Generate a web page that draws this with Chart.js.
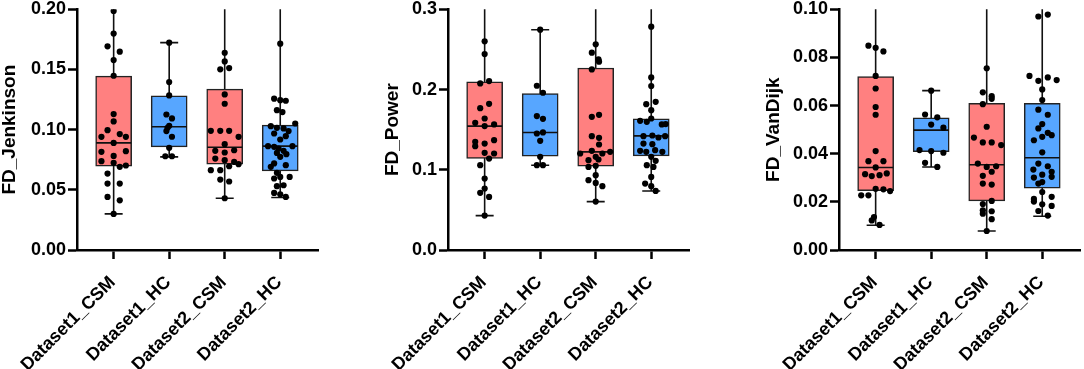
<!DOCTYPE html>
<html>
<head>
<meta charset="utf-8">
<script src="https://cdn.jsdelivr.net/npm/chart.js@4"></script>
<style>
  body { margin: 0; background: #fff; }
  #wrap { position: relative; width: 1084px; height: 369px; overflow: hidden; }
  canvas { position: absolute; top: 0; }
</style>
</head>
<body>
<div id="wrap">
  <canvas id="jenkinson" width="361" height="369" style="left:0px"></canvas>
  <canvas id="power" width="361" height="369" style="left:361px"></canvas>
  <canvas id="vandijk" width="362" height="369" style="left:722px"></canvas>
</div>
<script>
// Groups shown on every panel
const categories = ['Dataset1_CSM', 'Dataset1_HC', 'Dataset2_CSM', 'Dataset2_HC'];

// FD_Jenkinson
const jenkinsonTicks = [0, 0.05, 0.10, 0.15, 0.20];
const jenkinsonMin = [0.030, 0.0774, 0.0430, 0.0436];
const jenkinsonQ1 = [0.0696, 0.0857, 0.0713, 0.0657];
const jenkinsonMedian = [0.0890, 0.1024, 0.0854, 0.0863];
const jenkinsonQ3 = [0.1445, 0.1282, 0.1337, 0.1037];
const jenkinsonMax = [0.205, 0.1723, 0.22, 0.22];
const jenkinsonPoints = [
  [0.1986, 0.1798, 0.1692, 0.1648, 0.1578, 0.1448, 0.1129, 0.1068, 0.0996, 0.0963, 0.0940, 0.0940, 0.0890,
   0.0816, 0.0821, 0.0782, 0.0738, 0.0724, 0.0691, 0.0702, 0.0635, 0.0552, 0.0552, 0.0441, 0.0413, 0.0300],
  [0.1723, 0.1395, 0.1284, 0.1126, 0.1093, 0.1032, 0.1015, 0.0988, 0.0941, 0.0849, 0.0779, 0.0779],
  [0.1639, 0.1567, 0.1501, 0.1512, 0.1293, 0.1215, 0.0990, 0.0990, 0.0990, 0.0940, 0.0879, 0.0824, 0.0810,
   0.0829, 0.0760, 0.0746, 0.0696, 0.0732, 0.0713, 0.0663, 0.0663, 0.0585, 0.0569, 0.0430],
  [0.1714, 0.1257, 0.1245, 0.1240, 0.1162, 0.1146, 0.1051, 0.1029, 0.1015, 0.1010, 0.0988, 0.0968, 0.0946,
   0.0918, 0.0863, 0.0857, 0.0863, 0.0843, 0.0824, 0.0807, 0.0796, 0.0774, 0.0719, 0.0705, 0.0691, 0.0641,
   0.0607, 0.0607, 0.0594, 0.0538, 0.0530, 0.0474, 0.0463, 0.0441]
];
// horizontal scatter of the dots, in category widths
const jenkinsonJitter = [
  [0, 0, -0.11, 0.11, 0, 0, 0, 0, -0.11, 0.11, -0.22, 0.22, 0, -0.22, 0.22, 0, -0.22, 0, 0.11, 0.22, -0.11,
   -0.11, 0.11, -0.11, 0.11, 0],
  [0, 0, 0, -0.05, 0.05, 0, -0.03, -0.05, 0.05, 0, -0.07, 0.05],
  [0, 0, -0.08, 0.08, 0, 0, -0.25, -0.08, 0.08, 0.25, 0, -0.17, 0, 0.17, -0.17, 0, 0.08, 0.17, 0.25, -0.25,
   -0.08, -0.08, 0.08, 0],
  [0, -0.11, 0, 0.10, -0.06, 0.04, 0.27, -0.17, -0.06, 0.06, 0.15, -0.11, 0.10, 0, -0.22, -0.11, 0.22, -0.03,
   0.06, -0.06, 0.11, 0, -0.11, 0.10, -0.17, -0.06, 0, 0.17, -0.11, 0.06, -0.06, -0.11, 0, 0.10]
];

// FD_Power
const powerTicks = [0, 0.1, 0.2, 0.3];
const powerMin = [0.0429, 0.1057, 0.0603, 0.0736];
const powerQ1 = [0.1140, 0.1169, 0.1044, 0.1173];
const powerMedian = [0.1544, 0.1465, 0.1223, 0.1423];
const powerQ3 = [0.2097, 0.1951, 0.2268, 0.1635];
const powerMax = [0.33, 0.2746, 0.33, 0.33];
const powerPoints = [
  [0.2601, 0.2442, 0.2076, 0.2105, 0.1768, 0.1822, 0.1639, 0.1585, 0.1565, 0.1544, 0.1348, 0.1294, 0.1327,
   0.1369, 0.1211, 0.1203, 0.1140, 0.1057, 0.0890, 0.0766, 0.0712, 0.0662, 0.0429],
  [0.2746, 0.2047, 0.1960, 0.1669, 0.1635, 0.1452, 0.1465, 0.1361, 0.1161, 0.1057, 0.1057],
  [0.2563, 0.2459, 0.2376, 0.2347, 0.2251, 0.1660, 0.1685, 0.1419, 0.1398, 0.1315, 0.1203, 0.1236, 0.1203,
   0.1223, 0.1161, 0.1119, 0.1128, 0.1036, 0.1049, 0.0932, 0.0870, 0.0836, 0.0795, 0.0603],
  [0.2784, 0.2151, 0.2043, 0.1818, 0.1847, 0.1743, 0.1610, 0.1598, 0.1639, 0.1565, 0.1569, 0.1419, 0.1427,
   0.1402, 0.1419, 0.1327, 0.1319, 0.1236, 0.1223, 0.1244, 0.1223, 0.1161, 0.1111, 0.1057, 0.1036, 0.0911,
   0.0828, 0.0795, 0.0736]
];
const powerJitter = [
  [0, 0, -0.08, 0.08, -0.08, 0.08, 0, -0.17, 0.17, 0, -0.17, -0.17, 0, 0.17, 0, 0.17, 0.08, -0.08, 0, 0,
   -0.08, 0.08, 0],
  [0, -0.06, 0.05, -0.06, 0.05, -0.06, 0.05, 0, 0, -0.06, 0.05],
  [0, -0.07, 0.05, 0.06, -0.07, -0.07, 0.06, -0.07, 0.06, 0.06, -0.28, -0.07, 0.12, 0.26, 0, -0.13, 0.05,
   -0.13, 0, 0, -0.13, 0, 0.12, 0],
  [0, 0, 0, -0.09, 0.08, 0, -0.20, -0.08, 0, 0.19, 0.26, -0.14, 0.02, 0.13, 0.25, -0.14, 0.02, -0.20, -0.09,
   0.07, 0.20, 0, 0.08, -0.08, 0.04, 0, -0.11, 0, 0.08]
];

// FD_VanDijk
const vandijkTicks = [0, 0.02, 0.04, 0.06, 0.08, 0.10];
const vandijkMin = [0.0103, 0.0345, 0.0079, 0.0140];
const vandijkQ1 = [0.0247, 0.0408, 0.0204, 0.0257];
const vandijkMedian = [0.0343, 0.0498, 0.0354, 0.0383];
const vandijkQ3 = [0.0721, 0.0549, 0.0609, 0.0609];
const vandijkMax = [0.11, 0.0662, 0.11, 0.11];
const vandijkPoints = [
  [0.0849, 0.0840, 0.0825, 0.0723, 0.0671, 0.0594, 0.0562, 0.0411, 0.0369, 0.0369, 0.0343, 0.0315, 0.0307,
   0.0311, 0.0318, 0.0254, 0.0252, 0.0245, 0.0227, 0.0227, 0.0137, 0.0123, 0.0104],
  [0.0662, 0.0563, 0.0551, 0.0521, 0.0508, 0.0415, 0.0411, 0.0404, 0.0362, 0.0345],
  [0.0755, 0.0655, 0.0639, 0.0628, 0.0606, 0.0512, 0.0467, 0.0447, 0.0447, 0.0436, 0.0359, 0.0345, 0.0348,
   0.0325, 0.0308, 0.0276, 0.0272, 0.0204, 0.0191, 0.0165, 0.0161, 0.0151, 0.0128, 0.0079],
  [0.0970, 0.0978, 0.0723, 0.0703, 0.0717, 0.0706, 0.0667, 0.0623, 0.0583, 0.0562, 0.0523, 0.0505, 0.0477,
   0.0487, 0.0456, 0.0470, 0.0406, 0.0359, 0.0348, 0.0334, 0.0325, 0.0313, 0.0301, 0.0304, 0.0276, 0.0282,
   0.0241, 0.0212, 0.0201, 0.0190, 0.0221, 0.0183, 0.0162, 0.0143]
];
const vandijkJitter = [
  [-0.13, 0, 0.14, 0, 0, 0, 0, 0, -0.13, 0.14, 0, -0.19, -0.07, 0.07, 0.20, 0, 0.14, 0.26, -0.26, -0.13,
   -0.03, -0.07, 0.07],
  [0, -0.11, 0.11, 0, 0.22, -0.21, 0, 0.22, -0.11, 0.11],
  [0, -0.07, 0.09, 0.09, -0.07, 0, -0.23, -0.07, 0.09, 0.26, -0.16, 0, 0.17, 0.09, -0.07, -0.07, 0.09, 0.09,
   -0.07, -0.07, 0.09, -0.07, 0.09, 0],
  [-0.07, 0.10, -0.23, -0.07, 0.10, 0.26, 0, 0, -0.07, 0.10, 0, -0.07, 0.17, 0.10, -0.15, 0, 0, -0.07, 0.10,
   -0.16, 0.17, 0, -0.15, 0.17, -0.07, 0, 0, -0.15, -0.15, 0, 0.17, 0.17, -0.07, 0.10]
];

const FONT = '"Liberation Sans", Arial, sans-serif';
const PINK = '#FF8080';
const BLUE = '#57A6FF';
const boxFill = [PINK, BLUE, PINK, BLUE];

function makePanel(id, cfg) {
  const scatterData = [];
  cfg.points.forEach((vals, i) => {
    vals.forEach((v, j) => scatterData.push({ x: i + cfg.jitter[i][j], y: v }));
  });
  const boxData = categories.map((c, i) => ({ x: i, y: [cfg.q1[i], cfg.q3[i]] }));

  // whiskers under the boxes, medians on top of them
  const boxPlugin = {
    id: 'boxWhiskers',
    beforeDatasetsDraw(chart) {
      const { ctx, chartArea: a, scales: { x, y } } = chart;
      ctx.save();
      ctx.beginPath();
      ctx.rect(a.left, a.top, a.right - a.left, a.bottom - a.top);
      ctx.clip();
      ctx.strokeStyle = '#111';
      ctx.lineWidth = 1.6;
      categories.forEach((c, i) => {
        const px = x.getPixelForValue(i);
        const yMin = y.getPixelForValue(cfg.min[i]);
        const yMax = y.getPixelForValue(cfg.max[i]);
        ctx.beginPath();
        ctx.moveTo(px, yMin); ctx.lineTo(px, yMax);
        ctx.moveTo(px - 9, yMin); ctx.lineTo(px + 9, yMin);
        ctx.moveTo(px - 9, yMax); ctx.lineTo(px + 9, yMax);
        ctx.stroke();
      });
      ctx.restore();
    },
    afterDatasetDraw(chart, args) {
      if (args.meta.type !== 'bar') return;
      const { ctx, scales: { x, y } } = chart;
      ctx.save();
      ctx.strokeStyle = '#111';
      ctx.lineWidth = 1.6;
      categories.forEach((c, i) => {
        const px = x.getPixelForValue(i);
        const py = y.getPixelForValue(cfg.median[i]);
        ctx.beginPath();
        ctx.moveTo(px - 17.5, py); ctx.lineTo(px + 17.5, py);
        ctx.stroke();
      });
      ctx.restore();
    }
  };

  // the bar dataset would otherwise push grid.offset onto x
  const axisGrid = { offset: false, drawOnChartArea: false, drawTicks: true, tickLength: 9, tickWidth: 2.5, tickColor: '#000' };
  const axisBorder = { display: true, color: '#000', width: 2.5 };

  new Chart(document.getElementById(id), {
    type: 'scatter',
    data: {
      datasets: [
        { type: 'scatter', data: scatterData, pointRadius: 3.1, pointBackgroundColor: '#000', pointBorderWidth: 0 },
        { type: 'bar', data: boxData, backgroundColor: boxFill, borderColor: '#222', borderWidth: 1.5,
          borderSkipped: false, barThickness: 36 }
      ]
    },
    options: {
      responsive: false,
      animation: false,
      devicePixelRatio: 1,
      layout: { padding: { left: 0, right: cfg.rightPad, top: 9.3, bottom: 0 } },
      plugins: { legend: { display: false }, tooltip: { enabled: false } },
      scales: {
        x: {
          type: 'linear', min: -0.66, max: 3.68, offset: false,
          afterBuildTicks: s => { s.ticks = categories.map((c, i) => ({ value: i })); },
          afterFit: s => { s.height = 119; s.paddingLeft = 0; s.paddingRight = 0; },
          ticks: {
            callback: (v, i) => categories[i],
            minRotation: 45, maxRotation: 45, autoSkip: false, padding: 13, labelOffset: -1,
            color: '#000', font: { family: FONT, size: 18, weight: 'bold' }
          },
          grid: axisGrid, border: axisBorder
        },
        y: {
          type: 'linear', min: 0, max: cfg.ticks[cfg.ticks.length - 1],
          afterBuildTicks: s => { s.ticks = cfg.ticks.map(v => ({ value: v })); },
          afterFit: s => { s.width = cfg.axisX; s.paddingTop = 0; s.paddingBottom = 0; },
          ticks: {
            callback: v => v.toFixed(cfg.decimals), padding: 2,
            color: '#000', font: { family: FONT, size: 18, weight: 'bold' }
          },
          grid: axisGrid, border: axisBorder,
          title: {
            display: true, text: cfg.title, color: '#000',
            font: { family: FONT, size: 19, weight: 'bold', lineHeight: 1 },
            padding: { top: cfg.titlePad, bottom: 0 }
          }
        }
      }
    },
    plugins: [boxPlugin]
  });
}

makePanel('jenkinson', {
  title: 'FD_Jenkinson', ticks: jenkinsonTicks, decimals: 2, axisX: 77, rightPad: 43, titlePad: 0.5,
  min: jenkinsonMin, q1: jenkinsonQ1, median: jenkinsonMedian, q3: jenkinsonQ3, max: jenkinsonMax,
  points: jenkinsonPoints, jitter: jenkinsonJitter
});
makePanel('power', {
  title: 'FD_Power', ticks: powerTicks, decimals: 1, axisX: 87, rightPad: 33, titlePad: 22,
  min: powerMin, q1: powerQ1, median: powerMedian, q3: powerQ3, max: powerMax,
  points: powerPoints, jitter: powerJitter
});
makePanel('vandijk', {
  title: 'FD_VanDijk', ticks: vandijkTicks, decimals: 2, axisX: 117, rightPad: 4, titlePad: 42.5,
  min: vandijkMin, q1: vandijkQ1, median: vandijkMedian, q3: vandijkQ3, max: vandijkMax,
  points: vandijkPoints, jitter: vandijkJitter
});
</script>
</body>
</html>
